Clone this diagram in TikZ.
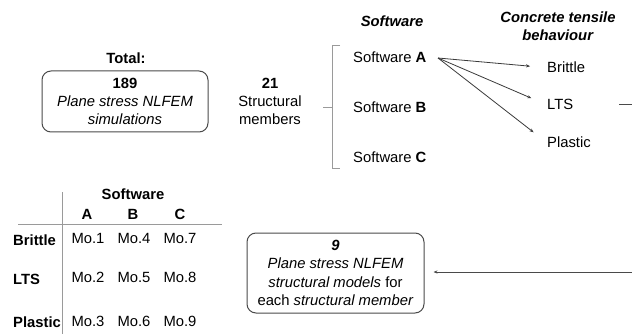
\documentclass[tikz,border=0pt]{standalone}
\usepackage{fontspec}
\setmainfont{Liberation Sans}
\usetikzlibrary{arrows.meta}
\definecolor{boxc}{HTML}{4A4A4A}
\definecolor{arrc}{HTML}{3A3A3A}
\definecolor{tabc}{HTML}{9A9A9A}
\begin{document}
\begin{tikzpicture}[x=1pt,y=-1pt,
  txt/.style={inner sep=0pt, anchor=base, font=\fontsize{14.8}{18}\selectfont},
  rbox/.style={draw=boxc, line width=1pt, rounded corners=9pt, align=center, inner sep=0pt,
     font=\fontsize{14.8}{18.3}\selectfont},
  arr/.style={draw=arrc, line width=0.8pt, -{Stealth[length=4pt,width=3.2pt]}},
  plain/.style={draw=arrc, line width=0.8pt},
  tabline/.style={draw=tabc, line width=1pt}]
\useasboundingbox (0,0) rectangle (632,334);

% top left
\node[txt] (total) at (126,64) {\textbf{Total:}};
\node[rbox, minimum width=166pt, minimum height=61pt] (box1) at (125,101.5)
  {\textbf{189}\\\textit{Plane stress NLFEM}\\\textit{simulations}};
\node[txt, align=center] (n21) at (270,89) {\textbf{21}};
\node[txt] (struc) at (270,107) {Structural};
\node[txt] (memb) at (270,125) {members};

% bracket
\draw[plain, draw=tabc] (340,45) -- (332,45) -- (332,168) -- (340,168);
\draw[plain, draw=tabc] (332,107) -- (323,107);

% headers
\node[txt] (hsw) at (392,27) {\textbf{\textit{Software}}};
\node[txt] (hct1) at (558,23) {\textbf{\textit{Concrete tensile}}};
\node[txt] (hct2) at (558,41) {\textbf{\textit{behaviour}}};

% software list
\node[txt, anchor=base west] (swA) at (353,63) {Software \textbf{A}};
\node[txt, anchor=base west] (swB) at (353,113) {Software \textbf{B}};
\node[txt, anchor=base west] (swC) at (353,163) {Software \textbf{C}};

% behaviours
\node[txt, anchor=base west] (brit) at (547,73) {Brittle};
\node[txt, anchor=base west] (lts) at (547,110) {LTS};
\node[txt, anchor=base west] (plas) at (547,148) {Plastic};

\coordinate (a0) at (438,58);
\draw[arr, shorten >=17pt] (a0) -- (brit.west);
\draw[arr, shorten >=17pt] (a0) -- (lts.west);
\draw[arr, shorten >=17pt] (a0) -- (plas.west);

% right connector (goes off the picture)
\coordinate (r1) at (619,104);
\coordinate (r2) at (632,104);
\draw[plain, draw=boxc] (r1) -- (r2);

% box 2
\node[rbox, minimum width=177pt, minimum height=80pt] (box2) at (335.5,273)
  {\textbf{\textit{9}}\\\textit{Plane stress NLFEM}\\\textit{structural models} for\\each \textit{structural member}};
\coordinate (r3) at (632,272);
\draw[arr, draw=boxc, shorten >=9pt] (r3) -- (box2.east |- r3);

% table
\draw[tabline] (62,192) -- (62,334);
\draw[tabline] (18,224) -- (222,224);
\node[txt] (tsw) at (133,200) {\textbf{Software}};
\node[txt] (tA) at (87,219) {\textbf{A}};
\node[txt] (tB) at (133,219) {\textbf{B}};
\node[txt] (tC) at (180,219) {\textbf{C}};
\node[txt, anchor=base west] (rB) at (13,245) {\textbf{Brittle}};
\node[txt, anchor=base west] (rL) at (13,284) {\textbf{LTS}};
\node[txt, anchor=base west] (rP) at (13,327) {\textbf{Plastic}};
\node[txt] (m1) at (88,243) {Mo.1};
\node[txt] (m4) at (134,243) {Mo.4};
\node[txt] (m7) at (180,243) {Mo.7};
\node[txt] (m2) at (88,282) {Mo.2};
\node[txt] (m5) at (134,282) {Mo.5};
\node[txt] (m8) at (180,282) {Mo.8};
\node[txt] (m3) at (88,326) {Mo.3};
\node[txt] (m6) at (134,326) {Mo.6};
\node[txt] (m9) at (180,326) {Mo.9};
\end{tikzpicture}
\end{document}
